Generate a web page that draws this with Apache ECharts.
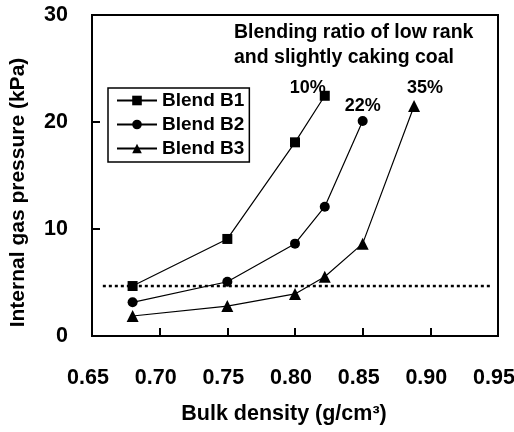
<!DOCTYPE html>
<html><head><meta charset="utf-8">
<script src="https://cdn.jsdelivr.net/npm/echarts@6/dist/echarts.min.js"></script>
<style>html,body{margin:0;padding:0;background:#fff}#c{width:514px;height:432px}</style>
</head><body><div id="c"></div>
<script>
const xTicks = [0.65, 0.70, 0.75, 0.80, 0.85, 0.90, 0.95];
const yTicks = [0, 10, 20, 30];
const b1X = [0.68, 0.75, 0.80, 0.822];
const b1Y = [4.67, 9.07, 18.1, 22.45];
const b2X = [0.68, 0.75, 0.80, 0.822, 0.85];
const b2Y = [3.15, 5.07, 8.63, 12.08, 20.1];
const b3X = [0.68, 0.75, 0.80, 0.822, 0.85, 0.888];
const b3Y = [1.87, 2.8, 3.93, 5.54, 8.63, 21.5];
const refX = [0.658, 0.944];
const refY = [4.67, 4.67];
const names = ['Blend B1', 'Blend B2', 'Blend B3'];
const ratioLabels = ['10%', '22%', '35%'];
const annotation = 'Blending ratio of low rank\nand slightly caking coal';

const FONT = '"Liberation Sans", Arial, sans-serif';
function pts(xs, ys, lab, off) {
  return xs.map((x, i) => {
    const p = {value: [x, ys[i]]};
    if (i === xs.length - 1) {
      p.label = {show: true, position: 'inside', offset: off, formatter: lab,
        color: '#000', fontSize: 18, fontWeight: 'bold', fontFamily: FONT};
    }
    return p;
  });
}
const chart = echarts.init(document.getElementById('c'), null, {renderer: 'canvas'});
const lineCommon = {type: 'line', color: '#000', lineStyle: {color: '#000', width: 1.2},
  itemStyle: {color: '#000'}, z: 3};
chart.setOption({
  animation: false,
  backgroundColor: '#fff',
  title: {text: annotation, left: 229, top: 15,
    textStyle: {fontSize: 19.5, fontWeight: 'bold', color: '#000', fontFamily: FONT, lineHeight: 25}},
  grid: {left: 92, right: 16, top: 15, bottom: 96, show: true, borderColor: '#000', borderWidth: 2,
    containLabel: false, outerBoundsMode: 'none'},
  legend: {data: names, orient: 'vertical', left: 108, top: 88, padding: [3, 5, 4, 8],
    itemGap: 5, itemWidth: 40, itemHeight: 12, borderColor: '#000', borderWidth: 1.5,
    textStyle: {fontSize: 19, fontWeight: 'bold', color: '#000', fontFamily: FONT}},
  xAxis: {type: 'value', min: 0.65, max: 0.95, interval: 0.05,
    name: 'Bulk density (g/cm³)', nameLocation: 'middle', nameGap: 67,
    nameTextStyle: {fontSize: 21.5, fontWeight: 'bold', color: '#000', fontFamily: FONT, padding: [0, 22, 0, 0]},
    axisLine: {lineStyle: {color: '#000', width: 2}},
    axisTick: {inside: true, length: 8, lineStyle: {color: '#000', width: 2}},
    axisLabel: {margin: 31, fontSize: 21.5, fontWeight: 'bold', color: '#000', fontFamily: FONT,
      padding: [0, 8, 0, 0], formatter: v => v.toFixed(2)},
    splitLine: {show: false}},
  yAxis: {type: 'value', min: 0, max: 30, interval: 10,
    name: 'Internal gas pressure (kPa)', nameLocation: 'middle', nameGap: 63,
    nameTextStyle: {fontSize: 21, fontWeight: 'bold', color: '#000', fontFamily: FONT, padding: [0, 34, 0, 0]},
    axisLine: {lineStyle: {color: '#000', width: 2}},
    axisTick: {inside: true, length: 8, lineStyle: {color: '#000', width: 2}},
    axisLabel: {margin: 24, fontSize: 21.5, fontWeight: 'bold', color: '#000', fontFamily: FONT},
    splitLine: {show: false}},
  series: [
    Object.assign({}, lineCommon, {name: names[0], symbol: 'rect', symbolSize: 10,
      data: pts(b1X, b1Y, ratioLabels[0], [-17, -8])}),
    Object.assign({}, lineCommon, {name: names[1], symbol: 'circle', symbolSize: 10,
      data: pts(b2X, b2Y, ratioLabels[1], [0, -15])}),
    Object.assign({}, lineCommon, {name: names[2], symbol: 'triangle', symbolSize: 12,
      data: pts(b3X, b3Y, ratioLabels[2], [11, -18])}),
    {type: 'line', name: 'ref', symbol: 'none', silent: true, z: 2,
      lineStyle: {color: '#000', width: 2.5, type: [3, 3]},
      data: refX.map((x, i) => [x, refY[i]])}
  ]
});
</script></body></html>
